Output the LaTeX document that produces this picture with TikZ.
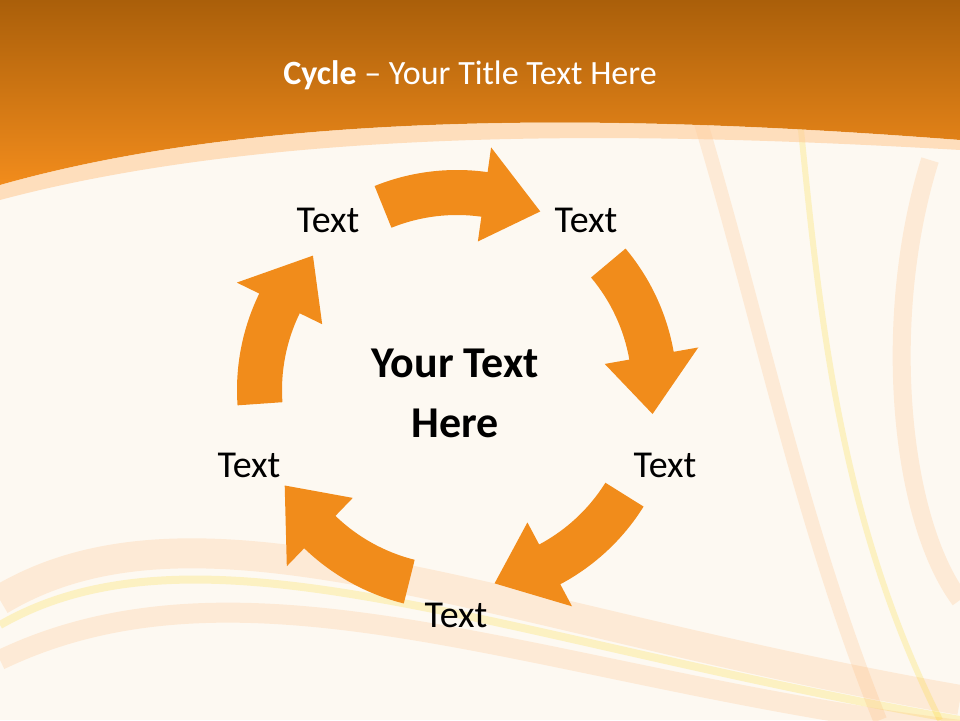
\documentclass[tikz,border=0pt]{standalone}
\usepackage{fontspec}
\setmainfont{Carlito}
\begin{document}
\begin{tikzpicture}[x=1pt,y=1pt,
  lbl/.style={font=\fontsize{38}{42}\selectfont, text=black},
  swoosh/.style={line width=#1, draw=orange!60, opacity=0.2}]
\definecolor{cream}{HTML}{FDF9F2}
\definecolor{arr}{HTML}{F18C1B}
\useasboundingbox (0,0) rectangle (960,720);
\fill[cream] (0,0) rectangle (960,720);
% swooshes
\draw[swoosh=30pt] (0,120) .. controls (200,240) and (500,100) .. (960,20);
\draw[swoosh=8pt, draw=yellow!70!orange] (0,95) .. controls (200,210) and (500,80) .. (960,0);
\draw[swoosh=20pt] (0,60) .. controls (250,180) and (550,40) .. (960,-10);
\draw[swoosh=14pt] (700,600) .. controls (760,400) and (800,200) .. (880,0);
\draw[swoosh=6pt, draw=yellow!70!orange] (800,600) .. controls (820,400) and (840,200) .. (940,0);
\draw[swoosh=18pt] (930,560) .. controls (880,400) and (900,200) .. (960,120);
% header
\shade[top color={rgb,255:red,170;green,95;blue,10}, bottom color={rgb,255:red,242;green,140;blue,28}]
  (0,720) -- (960,720) -- (960,580) .. controls (700,600) and (300,620) .. (0,535) -- cycle;
\fill[orange!40, opacity=0.6] (0,535) .. controls (300,620) and (700,600) .. (960,580) -- (960,570) .. controls (700,585) and (300,600) .. (0,520) -- cycle;
\node[text=white, font=\fontsize{34}{38}\selectfont] (title) at (470,645) {\textbf{Cycle} – Your Title Text Here};
% arrows
\begin{scope}[shift={(457,330)}]
\foreach \c in {90,18,-54,-126,162}{
 \fill[arr] (\c+22:175) arc[start angle=\c+22, end angle=\c-8, radius=175]
   -- (\c-8:150) -- (\c-25:197) -- (\c-8:245) -- (\c-8:220)
   arc[start angle=\c-8, end angle=\c+22, radius=220] -- cycle;
}
\end{scope}
\node[lbl] (t1) at (328,500) {Text};
\node[lbl] (t2) at (586,500) {Text};
\node[lbl] (t3) at (665,255) {Text};
\node[lbl] (t4) at (456,105) {Text};
\node[lbl] (t5) at (249,255) {Text};
\node[font=\bfseries\fontsize{44}{60}\selectfont, align=center] (ctr) at (455,327) {Your Text\\Here};
\end{tikzpicture}
\end{document}
